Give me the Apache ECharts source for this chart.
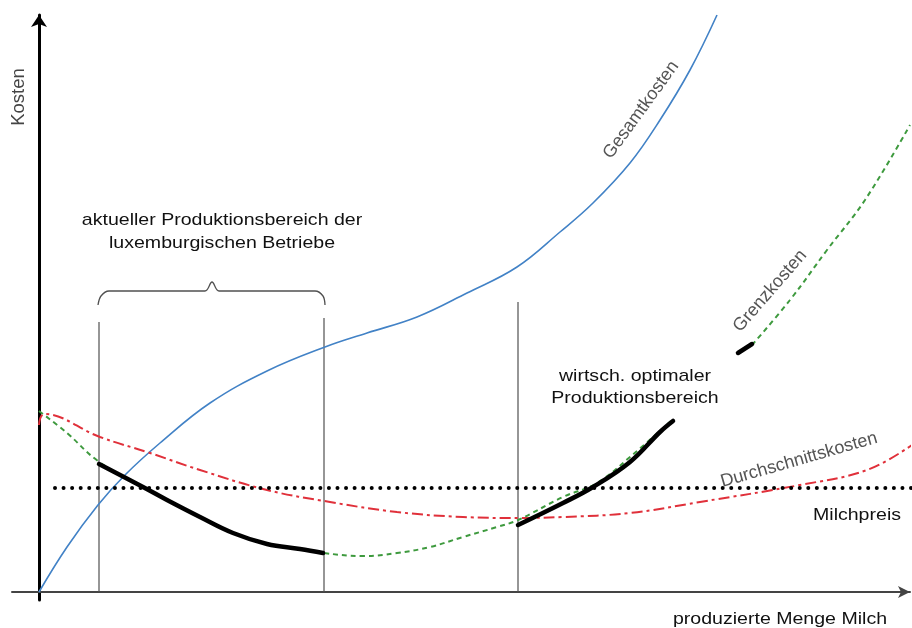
<!DOCTYPE html>
<html><head><meta charset="utf-8">
<script src="https://cdn.jsdelivr.net/npm/echarts@6/dist/echarts.min.js"></script>
<style>html,body{margin:0;padding:0;background:#fff}#c{width:912px;height:628px}</style>
</head><body><div id="c"></div>
<script>
// x = produced quantity, y = cost (arbitrary units)
const gesamtX = [0, 28, 59, 86, 121, 171, 228, 286, 328, 378, 428, 478, 521, 554, 591, 621, 651, 678];
const gesamtY = [0, 45, 87, 117, 149, 189, 221, 245, 259, 275, 299, 325, 360, 389, 429, 472, 522, 577];

const grenzX = [0, 28, 59, 104, 128, 161, 194, 228, 261, 284, 324, 358, 391, 424, 458, 479, 524, 558, 591, 633, 660, 713, 751, 788, 826, 871];
const grenzY = [181, 159, 131, 105, 92, 75, 59, 48, 43, 39, 36, 39, 45, 55, 65, 72, 95, 109, 135, 172, '-', 247, 292, 342, 392, 467];

const durchX = [0, 5, 61, 111, 161, 228, 291, 358, 424, 479, 524, 591, 661, 761, 828, 873];
const durchY = [167, 178, 155, 139, 122, 102, 90, 80, 75, 74, 75, 79, 90, 107, 122, 147];

const milchpreisX = [16, 873];
const milchpreisY = [104, 104];

// thick black parts of the marginal cost curve
const black1X = [60, 104, 128, 161, 194, 228, 261, 284];
const black1Y = [128, 105, 92, 75, 59, 48, 43, 39];
const black2X = [479, 524, 554, 591, 621, 634];
const black2Y = [67, 89, 105, 130, 160, 171];
const black3X = [699, 713];
const black3Y = [239, 248];

// vertical range markers: x position and height
const vertX = [60, 285, 479];
const vertTop = [270, 274, 290];

// brace over the current production range
const braceX = [59, 62, 70, 166, 173, 180, 276, 284, 286];
const braceY = [287, 296, 301, 301, 310, 301, 301, 296, 287];

const zip = (xs, ys) => xs.map((x, i) => [x, ys[i]]);

const chart = echarts.init(document.getElementById('c'), null, {renderer: 'canvas'});
const FONT = 'Liberation Sans, Arial, sans-serif';

const series = [];
vertX.forEach((x, i) => {
  series.push({type: 'line', data: [[x, 0], [x, vertTop[i]]], showSymbol: false, silent: true,
    lineStyle: {color: '#505050', width: 1.2}, z: 1});
});
series.push({name: 'Klammer', type: 'line', data: zip(braceX, braceY), smooth: 0.35, showSymbol: false,
  lineStyle: {color: '#505050', width: 1.3}, z: 1});
series.push({name: 'Gesamtkosten', type: 'line', data: zip(gesamtX, gesamtY), smooth: 0.4,
  showSymbol: false, lineStyle: {color: '#4282c6', width: 1.6}, z: 3});
series.push({name: 'Durchschnittskosten', type: 'line', data: zip(durchX, durchY), smooth: 0.4,
  showSymbol: false, lineStyle: {color: '#e0303a', width: 2, type: [11, 4, 3, 4]}, z: 3});
series.push({name: 'Grenzkosten', type: 'line', data: zip(grenzX, grenzY), smooth: 0.4,
  connectNulls: false, showSymbol: false, lineStyle: {color: '#3e9a3e', width: 2, type: [5, 4]}, z: 3});
[[black1X, black1Y], [black2X, black2Y], [black3X, black3Y]].forEach(([xs, ys]) => {
  series.push({type: 'line', data: zip(xs, ys), smooth: 0.4, showSymbol: false,
    lineStyle: {color: '#000', width: 4.5, cap: 'round'}, z: 4});
});
series.push({name: 'Milchpreis', type: 'line', data: zip(milchpreisX, milchpreisY), showSymbol: false,
  lineStyle: {color: '#000', width: 4, type: [0.01, 8.55], cap: 'round'}, z: 5});

function txt(text, x, y, opt) {
  opt = opt || {};
  return {type: 'text', x: x, y: y, rotation: (opt.rot || 0) * Math.PI / 180,
    scaleX: opt.sx || 1, z: 10,
    style: {text: text, fontFamily: FONT, fontSize: opt.size || 17, fill: opt.color || '#111',
      align: 'center', verticalAlign: 'middle', lineHeight: opt.lh || 22}};
}

chart.setOption({
  animation: false,
  grid: {left: 12, right: 2, top: 15, bottom: 28},
  xAxis: {type: 'value', min: -27, max: 871, splitLine: {show: false},
    axisLabel: {show: false}, axisTick: {show: false},
    axisLine: {onZero: true, lineStyle: {color: '#444', width: 2}, symbol: ['none', 'arrow'], symbolSize: [9, 12]}},
  yAxis: {type: 'value', min: -8, max: 577, splitLine: {show: false},
    axisLabel: {show: false}, axisTick: {show: false},
    axisLine: {onZero: true, lineStyle: {color: '#000', width: 3}, symbol: ['none', 'arrow'], symbolSize: [12, 12]}},
  series: series,
  graphic: [
    txt('Kosten', 19, 97, {rot: 90, size: 18.5, color: '#444'}),
    txt('Gesamtkosten', 641, 110, {rot: 54, size: 18, color: '#555'}),
    txt('Grenzkosten', 770, 291, {rot: 49, size: 18, color: '#555'}),
    txt('Durchschnittskosten', 799, 460, {rot: 16, size: 18, color: '#555'}),
    txt('Milchpreis', 857, 515, {sx: 1.15}),
    txt('produzierte Menge Milch', 780, 619, {sx: 1.15}),
    txt('aktueller Produktionsbereich der\nluxemburgischen Betriebe', 222, 232, {sx: 1.15, lh: 23}),
    txt('wirtsch. optimaler\nProduktionsbereich', 635, 387, {sx: 1.15, lh: 22})
  ]
});
</script></body></html>
